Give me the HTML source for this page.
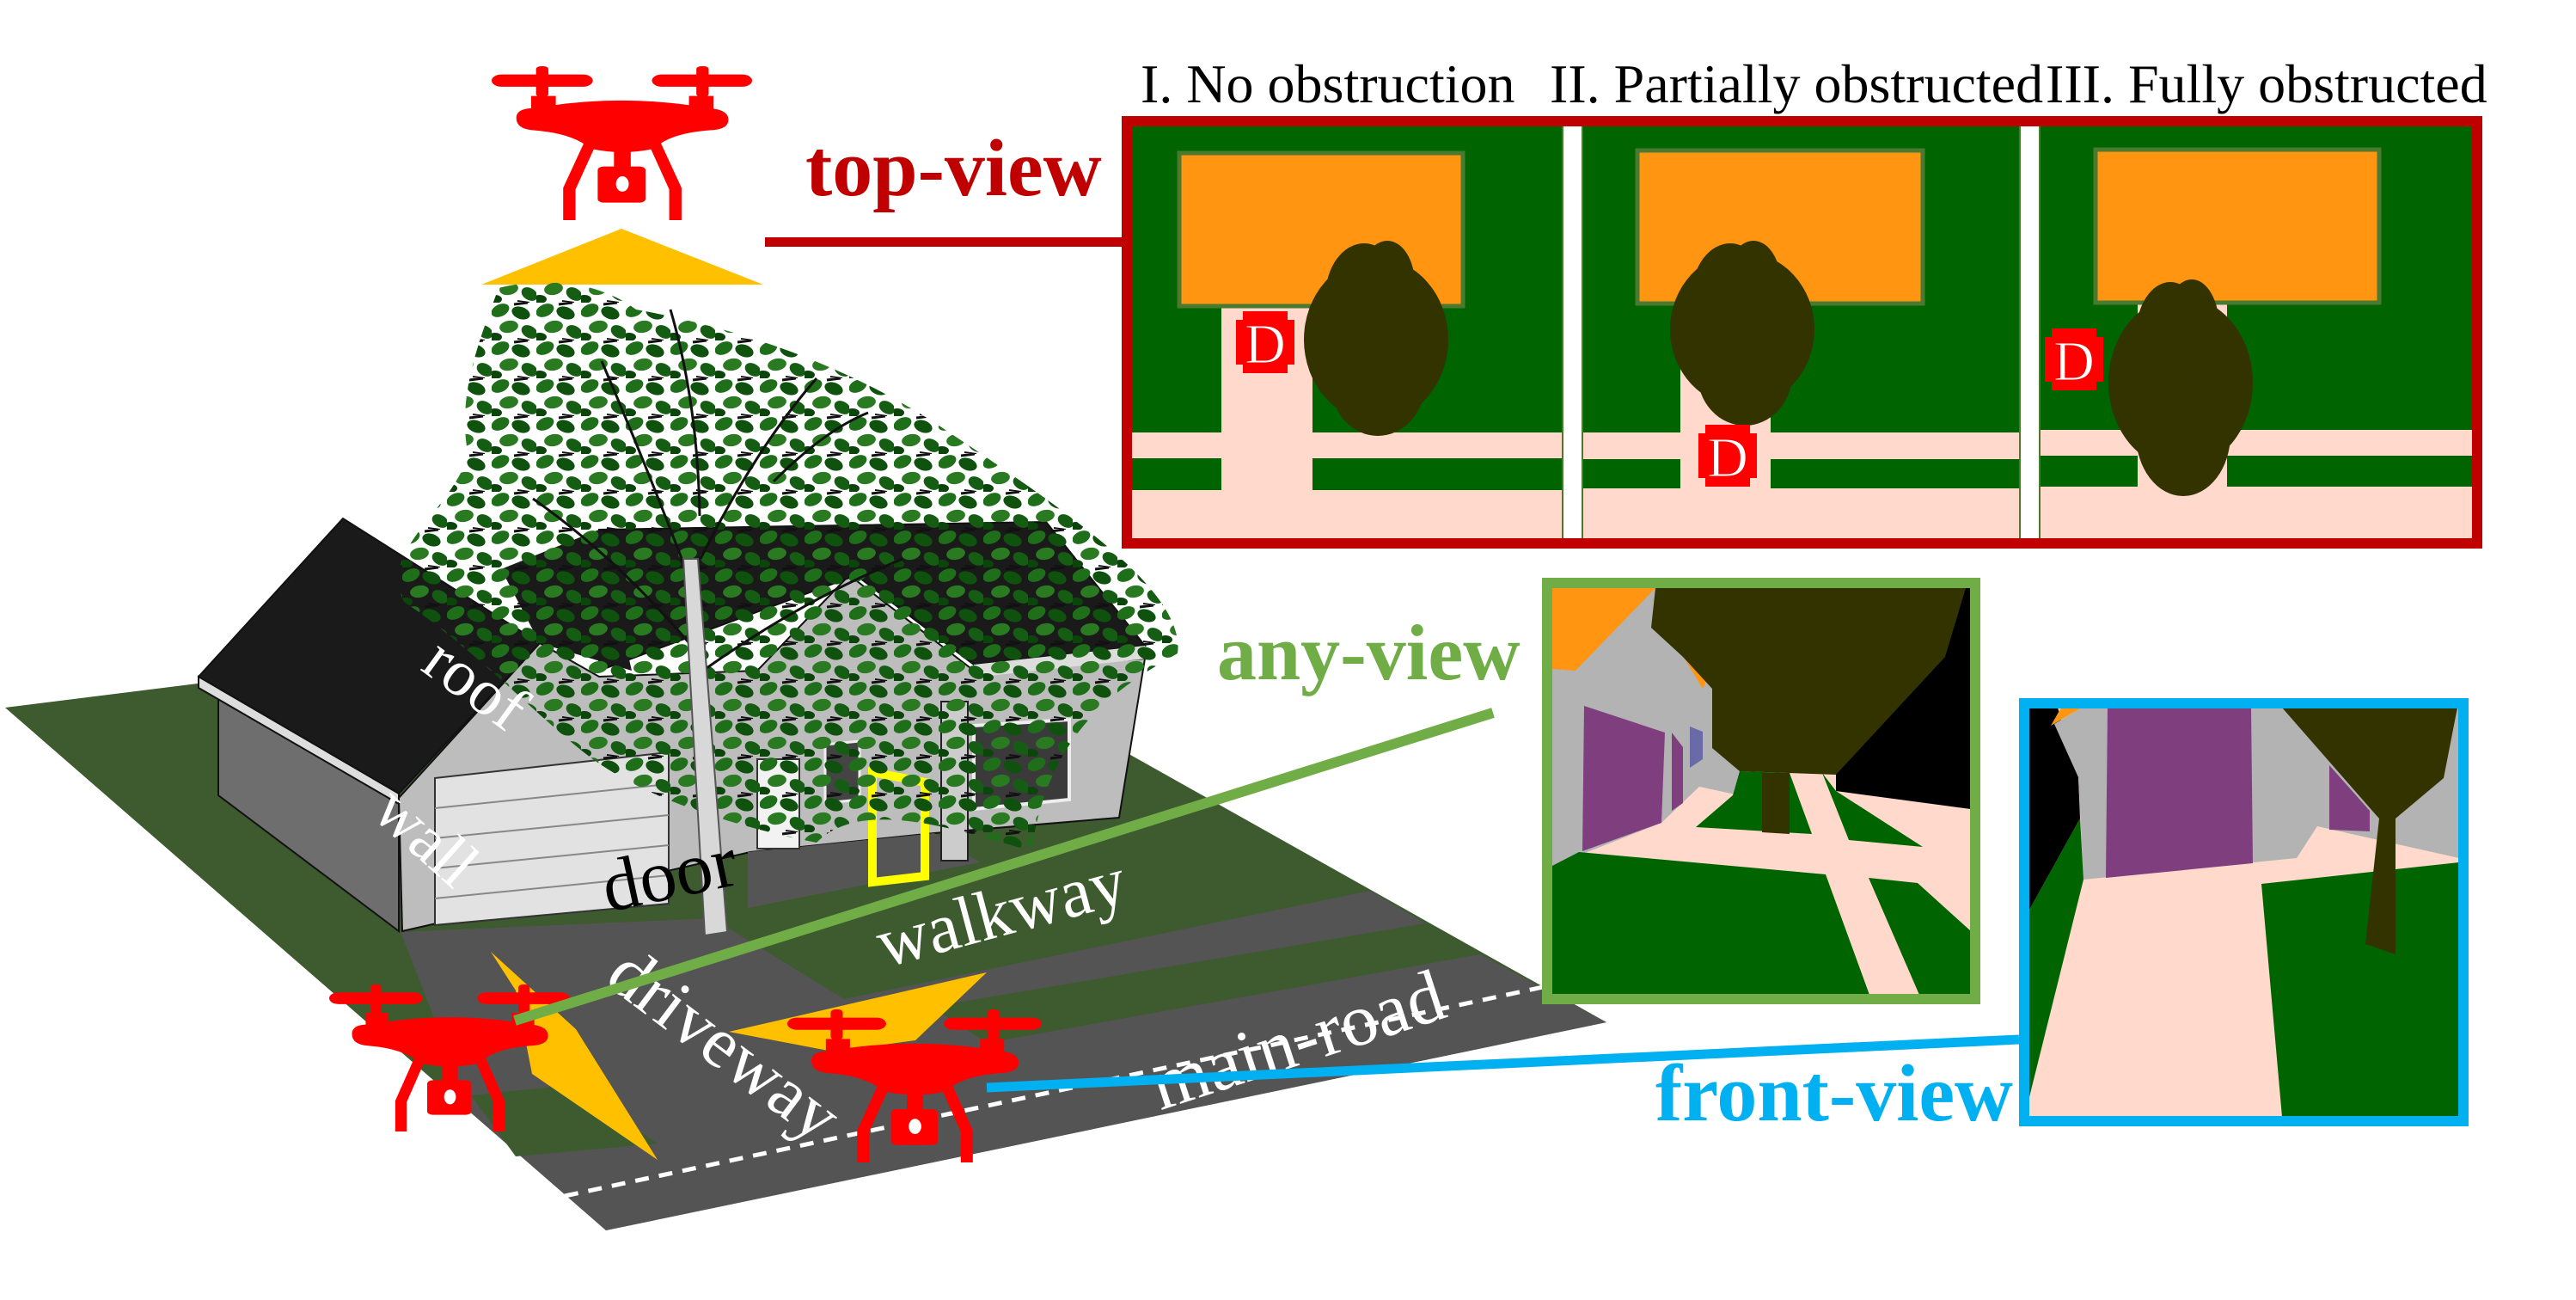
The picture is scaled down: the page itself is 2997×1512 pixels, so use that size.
<!DOCTYPE html>
<html><head><meta charset="utf-8"><style>html,body{margin:0;padding:0;background:#fff}svg{display:block}text{font-family:"Liberation Serif",serif}</style></head><body>
<svg width="2997" height="1512" viewBox="0 0 2997 1512" xmlns="http://www.w3.org/2000/svg">
<defs>
<pattern id="lv" width="52" height="44" patternUnits="userSpaceOnUse">
<ellipse cx="10" cy="9" rx="11" ry="7" fill="#1f6f1a" transform="rotate(-25 10 9)"/>
<ellipse cx="34" cy="12" rx="11" ry="7" fill="#0e520e" transform="rotate(20 34 12)"/>
<ellipse cx="20" cy="28" rx="11" ry="7" fill="#2a7a22" transform="rotate(-10 20 28)"/>
<ellipse cx="44" cy="34" rx="10" ry="7" fill="#155d12" transform="rotate(30 44 34)"/>
<ellipse cx="4" cy="40" rx="8" ry="5" fill="#0b450b"/>
<line x1="26" y1="2" x2="42" y2="0" stroke="#111" stroke-width="3"/>
<line x1="30" y1="42" x2="44" y2="44" stroke="#111" stroke-width="2"/>
</pattern>
<symbol id="drone" viewBox="300 103 528 502" preserveAspectRatio="none">
<rect x="300" y="130" width="205" height="40" rx="20" fill="#f00"/>
<rect x="625" y="130" width="203" height="40" rx="20" fill="#f00"/>
<rect x="390" y="103" width="25" height="100" rx="10" fill="#f00"/>
<rect x="715" y="103" width="25" height="100" rx="10" fill="#f00"/>
<rect x="380" y="200" width="50" height="60" fill="#f00"/>
<rect x="700" y="200" width="50" height="60" fill="#f00"/>
<path d="M350,272 Q350,240 385,240 Q565,190 742,240 Q780,245 780,278 Q780,310 742,312 Q660,322 630,372 Q565,395 500,372 Q465,322 385,312 Q350,308 350,272Z" fill="#f00"/>
<path d="M488,350 L512,356 L470,505 L470,605 L445,605 L445,500Z" fill="#f00"/>
<path d="M642,350 L618,356 L660,505 L660,605 L685,605 L685,500Z" fill="#f00"/>
<rect x="548" y="370" width="34" height="65" fill="#f00"/>
<rect x="515" y="430" width="97" height="118" rx="12" fill="#f00"/>
<ellipse cx="565" cy="487" rx="13" ry="25" fill="#fff"/>
</symbol>
<g id="dbadge"><path d="M8,0 H60 V10 H68 V62 H60 V72 H8 V62 H0 V10 H8Z" fill="#f00"/><text x="34" y="60" font-size="66" fill="#fff" text-anchor="middle" stroke="#f00" stroke-width="1">D</text></g>
</defs>

<text x="1327" y="119" font-size="64">I. No obstruction</text>
<text x="1803" y="119" font-size="64">II. Partially obstructed</text>
<text x="2380" y="119" font-size="64">III. Fully obstructed</text>

<rect x="1311" y="141" width="1571" height="491" fill="#fff"/>
<rect x="1315" y="146" width="503" height="482" fill="#006400"/>
<rect x="1315" y="503" width="503" height="30" fill="#ffdacc"/>
<rect x="1315" y="570" width="503" height="58" fill="#ffdacc"/>
<rect x="1421" y="357" width="106" height="271" fill="#ffdacc"/>
<rect x="1372" y="178" width="330" height="178" fill="#ff9510" stroke="#4a7a30" stroke-width="5"/>
<g fill="#333300"><ellipse cx="1601" cy="395" rx="84" ry="95"/><ellipse cx="1587" cy="345" rx="45" ry="62"/><ellipse cx="1614" cy="330" rx="32" ry="50"/><ellipse cx="1603" cy="445" rx="55" ry="62"/></g>
<use href="#dbadge" x="1438" y="362"/>
<rect x="1841" y="146" width="508" height="482" fill="#006400"/>
<rect x="1841" y="503" width="508" height="31" fill="#ffdacc"/>
<rect x="1841" y="568" width="508" height="60" fill="#ffdacc"/>
<rect x="1955" y="354" width="105" height="274" fill="#ffdacc"/>
<rect x="1905" y="175" width="332" height="178" fill="#ff9510" stroke="#4a7a30" stroke-width="5"/>
<g fill="#333300"><ellipse cx="2027" cy="383" rx="84" ry="90"/><ellipse cx="2013" cy="345" rx="45" ry="62"/><ellipse cx="2040" cy="330" rx="32" ry="50"/><ellipse cx="2030" cy="435" rx="55" ry="60"/></g>
<use href="#dbadge" x="1976" y="494"/>
<rect x="2374" y="146" width="504" height="482" fill="#006400"/>
<rect x="2374" y="500" width="504" height="30" fill="#ffdacc"/>
<rect x="2374" y="566" width="504" height="62" fill="#ffdacc"/>
<rect x="2487" y="353" width="104" height="275" fill="#ffdacc"/>
<rect x="2438" y="174" width="330" height="178" fill="#ff9510" stroke="#4a7a30" stroke-width="5"/>
<g fill="#333300"><ellipse cx="2537" cy="445" rx="84" ry="100"/><ellipse cx="2525" cy="390" rx="40" ry="62"/><ellipse cx="2550" cy="380" rx="32" ry="55"/><ellipse cx="2540" cy="505" rx="55" ry="72"/></g>
<use href="#dbadge" x="2379" y="382"/>
<rect x="1818" y="146" width="23" height="482" fill="#fff" stroke="#4a7a30" stroke-width="2"/>
<rect x="2350" y="146" width="23" height="482" fill="#fff" stroke="#4a7a30" stroke-width="2"/>
<rect x="1311" y="141" width="1571" height="491" fill="none" stroke="#c00000" stroke-width="12"/>

<text x="937" y="227" font-size="94" font-weight="bold" fill="#c00000">top-view</text>
<rect x="890" y="276" width="421" height="11" fill="#c00000"/>
<use href="#drone" x="572" y="77" width="303" height="179"/>
<polygon points="560,331 888,331 723,266" fill="#ffc000"/>

<polygon points="6,823 230,795 1301,870 1869,1189 705,1431" fill="#3e5a2f"/>
<polygon points="466,1084 829,1068 982,1162 1594,1036 1658,1074 1722,1110 1869,1189 705,1431 548,1294" fill="#545454"/>
<polygon points="548,1274 663,1262 765,1330 600,1345" fill="#3e5a2f"/>
<polygon points="1084,1171 1658,1074 1722,1110 1148,1213" fill="#3e5a2f"/>
<line x1="657" y1="1391" x2="1800" y2="1147" stroke="#fff" stroke-width="5" stroke-dasharray="16,12"/>

<polygon points="254,808 464,928 464,1083 254,925" fill="#6e6e6e" stroke="#111" stroke-width="2"/>
<polygon points="464,928 628,748 697,787 881,780 988,669 1133,780 1332,766 1302,951 1087,969 873,991 468,1083" fill="#bdbdbd" stroke="#111" stroke-width="2"/>
<polygon points="697,616 1217,607 1332,751 1133,773 996,669 697,780" fill="#1a1a1a" stroke="#111" stroke-width="2"/>
<polygon points="583,662 697,616 735,780 628,748" fill="#1a1a1a"/>
<polygon points="231,787 399,603 628,748 464,923" fill="#1a1a1a" stroke="#111" stroke-width="2"/>
<polygon points="231,787 464,923 464,935 231,800" fill="#ddd" stroke="#111" stroke-width="2"/>
<polygon points="1133,773 1332,751 1334,766 1133,788" fill="#ddd"/>
<polygon points="506,905 778,875 778,1051 506,1076" fill="#e2e2e2" stroke="#333" stroke-width="2"/>
<g stroke="#888" stroke-width="2"><line x1="506" y1="940" x2="778" y2="912"/><line x1="506" y1="975" x2="778" y2="948"/><line x1="506" y1="1010" x2="778" y2="983"/><line x1="506" y1="1045" x2="778" y2="1018"/></g>
<polygon points="870,991 1087,969 1140,1003 870,1056" fill="#555"/>
<rect x="881" y="883" width="49" height="104" fill="#f2f2f2" stroke="#333" stroke-width="2"/>
<polygon points="960,866 1000,862 1000,930 960,934" fill="#444" stroke="#eee" stroke-width="3"/>
<polygon points="1133,844 1244,837 1244,930 1133,941" fill="#3a3a3a" stroke="#eee" stroke-width="4"/>
<rect x="1095" y="816" width="31" height="185" fill="#ccc" stroke="#222" stroke-width="2"/>
<polygon points="1015,898 1076,910 1076,1019 1015,1026" fill="none" stroke="#ffff00" stroke-width="10"/>

<path d="M580,335 C640,320 700,330 740,360 C850,380 980,420 1100,500 C1250,600 1380,690 1370,760 C1300,800 1220,850 1200,990 C1100,960 1000,930 950,980 C850,960 760,930 700,890 C640,850 560,760 470,700 C440,640 520,600 545,530 C530,460 560,390 580,335Z" fill="url(#lv)"/>
<g stroke="#111" stroke-width="3" fill="none">
<path d="M812,700 Q760,560 700,420"/><path d="M815,650 Q880,520 950,440"/><path d="M812,760 Q720,650 620,580"/><path d="M818,780 Q930,700 1050,650"/><path d="M814,600 Q812,470 780,360"/><path d="M900,560 Q960,500 1010,480"/>
</g>
<polygon points="795,650 812,650 846,1084 820,1088" fill="#d8d8d8" stroke="#555" stroke-width="2"/>

<text x="553" y="820" font-size="76" fill="#fff" text-anchor="middle" transform="rotate(36 553 796)">roof</text>
<text x="496" y="998" font-size="76" fill="#fff" text-anchor="middle" transform="rotate(42 496 973)">wall</text>
<text x="779" y="1045" font-size="86" fill="#000" text-anchor="middle" transform="rotate(-12 779 1019)">door</text>
<text x="1165" y="1088" font-size="82" fill="#fff" text-anchor="middle" transform="rotate(-15 1165 1062)">walkway</text>
<text x="842" y="1242" font-size="84" fill="#fff" text-anchor="middle" transform="rotate(37 842 1216)">driveway</text>
<text x="1510" y="1238" font-size="86" fill="#fff" text-anchor="middle" transform="rotate(-18 1510 1212)">main-road</text>

<polygon points="571,1107 670,1197 765,1349 619,1249 600,1152" fill="#ffc000"/>
<polygon points="848,1200 1148,1131 1065,1210 969,1223" fill="#ffc000"/>
<use href="#drone" x="383" y="1145" width="280" height="171"/>
<use href="#drone" x="916" y="1174" width="296" height="178"/>

<line x1="599" y1="1187" x2="1737" y2="829" stroke="#70ad47" stroke-width="12"/>
<line x1="1148" y1="1265" x2="2349" y2="1209" stroke="#00b0f0" stroke-width="11"/>
<text x="1416" y="790" font-size="92" font-weight="bold" fill="#70ad47">any-view</text>
<text x="1926" y="1303" font-size="94" font-weight="bold" fill="#00b0f0">front-view</text>

<rect x="1805" y="683" width="488" height="474" fill="#ffdacc"/>
<polygon points="2227,683 2293,683 2293,941 2136,920 2136,897" fill="#000"/>
<polygon points="1806,684 1957,684 1992,801 1996,870 2024,897 2024,925 1977,915 1933,957 1806,1007" fill="#b3b3b3"/>
<polygon points="1806,684 1926,684 1833,780 1806,778" fill="#ff9510"/>
<polygon points="1958,763 1981,801 1988,787" fill="#ff9510"/>
<polygon points="1843,821 1937,852 1933,957 1841,990" fill="#7f3f7f"/>
<polygon points="1945,852 1958,869 1958,934 1945,943" fill="#7f3f7f"/>
<polygon points="1966,845 1981,851 1981,883 1966,893" fill="#6a6aa8"/>
<polygon points="1806,1007 1837,991 2124,1017 2175,1157 1806,1157" fill="#006400"/>
<polygon points="2174,1021 2231,1027 2293,1083 2293,1157 2233,1157" fill="#006400"/>
<polygon points="2016,925 1973,962 2108,970 2082,899 2024,897" fill="#006400"/>
<polygon points="2120,899 2151,977 2237,985 2136,920" fill="#006400"/>
<polygon points="1926,684 2287,684 2263,764 2136,901 2024,897 1992,870 1992,801 1958,764 1921,730" fill="#333300"/>
<polygon points="2050,899 2082,899 2082,970 2050,968" fill="#333300"/>
<rect x="1800" y="678" width="498" height="484" fill="none" stroke="#70ad47" stroke-width="12"/>

<rect x="2360" y="823" width="501" height="476" fill="#ffdacc"/>
<polygon points="2360,823 2394,823 2418,904 2420,952 2360,1060" fill="#000"/>
<polygon points="2422,823 2861,823 2861,998 2696,961 2672,998 2424,1023 2418,904 2390,842" fill="#b3b3b3"/>
<polygon points="2452,823 2619,823 2621,1004 2450,1021" fill="#7f3f7f"/>
<polygon points="2710,890 2757,943 2757,967 2710,965" fill="#7f3f7f"/>
<polygon points="2386,844 2422,823 2398,823" fill="#ff9510"/>
<polygon points="2360,1060 2420,952 2424,1023 2360,1280" fill="#006400"/>
<polygon points="2631,1028 2861,1003 2861,1299 2655,1299" fill="#006400"/>
<polygon points="2655,823 2859,823 2843,905 2787,952 2787,1110 2752,1098 2768,952 2760,943" fill="#333300"/>
<rect x="2355" y="818" width="511" height="486" fill="none" stroke="#00b0f0" stroke-width="12"/>
</svg>
</body></html>
